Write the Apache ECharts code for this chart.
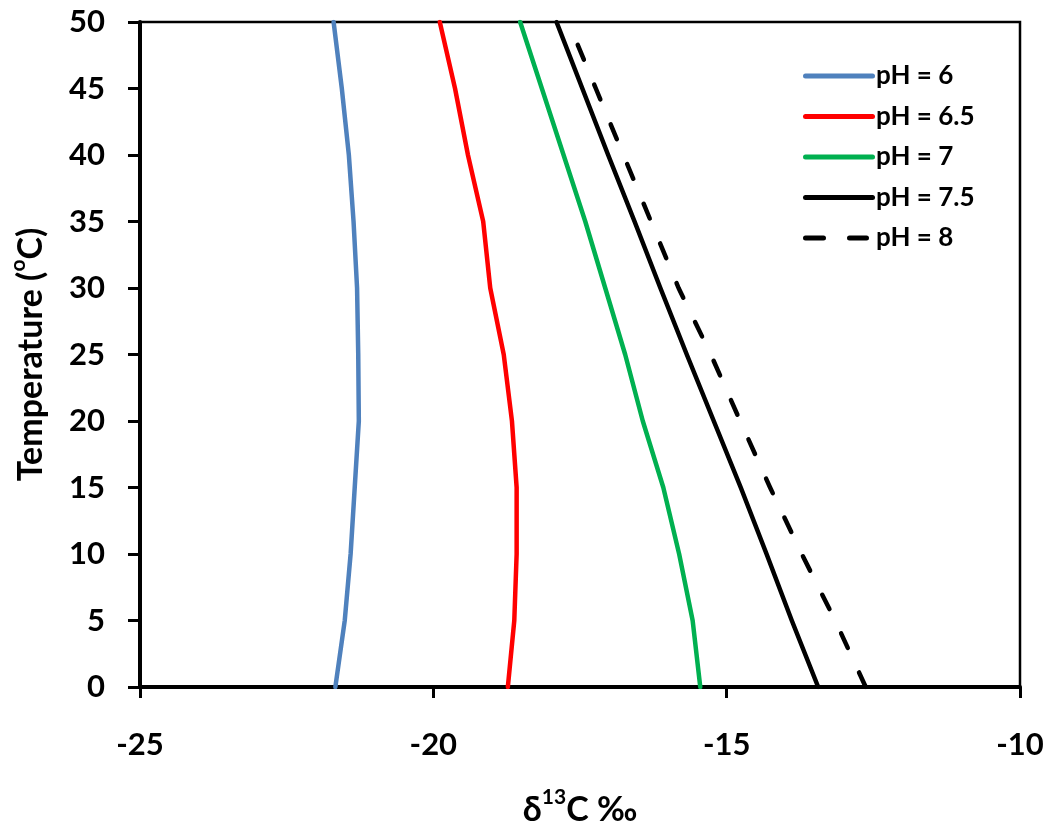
<!DOCTYPE html>
<html>
<head>
<meta charset="utf-8">
<script src="https://cdn.jsdelivr.net/npm/echarts@6/dist/echarts.min.js"></script>
<style>html,body{margin:0;padding:0;background:#fff}#c{width:1050px;height:825px}</style>
</head>
<body>
<div id="c"></div>
<script>
var temps = [0, 5, 10, 15, 20, 25, 30, 35, 40, 45, 50];
var seriesNames = ['pH = 6', 'pH = 6.5', 'pH = 7', 'pH = 7.5', 'pH = 8'];
var ph6   = [-21.67, -21.51, -21.41, -21.34, -21.27, -21.28, -21.30, -21.36, -21.44, -21.56, -21.70];
var ph65  = [-18.73, -18.62, -18.58, -18.58, -18.66, -18.80, -19.03, -19.15, -19.41, -19.63, -19.89];
var ph7   = [-15.45, -15.58, -15.81, -16.08, -16.43, -16.73, -17.07, -17.41, -17.78, -18.15, -18.52];
var ph75  = [-13.44, -13.89, -14.32, -14.76, -15.22, -15.68, -16.13, -16.57, -17.02, -17.46, -17.90];
var ph8   = [-12.63, -13.15, -13.72, -14.26, -14.77, -15.27, -15.82, -16.29, -16.76, -17.23, -17.70];
var xTicks = [-25, -20, -15, -10];
var yTicks = [0, 5, 10, 15, 20, 25, 30, 35, 40, 45, 50];

var FONT = 'Lato';
function pairs(xs) { return xs.map(function (x, i) { return [x, temps[i]]; }); }
var colors = ['#4f81bd', '#ff0000', '#00b050', '#000000', '#000000'];
var allData = [ph6, ph65, ph7, ph75, ph8];
var solidIcon = 'path://M2.5,0H69.5A2.5,2.5,0,0,1,69.5,5H2.5A2.5,2.5,0,0,1,2.5,0Z';
var dashIcon = 'path://M2.5,0H20.5A2.5,2.5,0,0,1,20.5,5H2.5A2.5,2.5,0,0,1,2.5,0Z M46.5,0H63.5A2.5,2.5,0,0,1,63.5,5H46.5A2.5,2.5,0,0,1,46.5,0Z M71.95,2.4H72V2.6H71.95Z';

var richA = { fontSize: 34, fontWeight: 'bold', color: '#000', fontFamily: FONT, lineHeight: 40, verticalAlign: 'bottom' };
var richS = { fontSize: 21, fontWeight: 'bold', color: '#000', fontFamily: FONT, lineHeight: 40, verticalAlign: 'top' };

var chart = echarts.init(document.getElementById('c'));
chart.setOption({
  animation: false,
  backgroundColor: '#fff',
  textStyle: { fontFamily: FONT },
  grid: { left: 140, right: 30, top: 22, bottom: 138, containLabel: false, outerBoundsMode: 'none',
    show: true, borderColor: '#000', borderWidth: 2.5, backgroundColor: 'transparent' },
  legend: {
    orient: 'vertical', left: 798, top: 58, itemGap: 14.5, itemWidth: 72, itemHeight: 5,
    data: seriesNames.map(function (n, i) { return { name: n, icon: i === 4 ? dashIcon : solidIcon }; }),
    textStyle: { fontFamily: FONT, fontWeight: 'bold', fontSize: 26, color: '#000', lineHeight: 26, padding: [0, 0, 0, -4] }
  },
  xAxis: {
    type: 'value', min: -25, max: -10, interval: 5,
    axisLine: { show: true, onZero: false, lineStyle: { color: '#000', width: 4 } },
    axisTick: { show: true, length: 11, lineStyle: { color: '#000', width: 3 } },
    splitLine: { show: false },
    axisLabel: { margin: 42, fontSize: 31, fontWeight: 'bold', color: '#000', fontFamily: FONT,
      formatter: function (v) { return xTicks.indexOf(v) >= 0 ? String(v) : ''; } },
    name: '{a|δ}{s|13}{a|C ‰}', nameLocation: 'middle', nameGap: 100,
    nameTextStyle: { rich: { a: richA, s: richS } }
  },
  yAxis: {
    type: 'value', min: 0, max: 50, interval: 5,
    axisLine: { show: true, onZero: false, lineStyle: { color: '#000', width: 4 } },
    axisTick: { show: true, length: 12, lineStyle: { color: '#000', width: 3 } },
    splitLine: { show: false },
    axisLabel: { margin: 35, fontSize: 31, fontWeight: 'bold', color: '#000', fontFamily: FONT,
      formatter: function (v) { return yTicks.indexOf(v) >= 0 ? String(v) : ''; } },
    name: '{a|Temperature (}{s|o}{a|C)}', nameLocation: 'middle', nameGap: 92, nameRotate: 90,
    nameTextStyle: { rich: { a: richA, s: richS } }
  },
  series: allData.map(function (d, i) {
    return {
      name: seriesNames[i], type: 'line', data: pairs(d), showSymbol: false, symbol: 'none',
      clip: true, z: 3,
      itemStyle: { color: colors[i] },
      lineStyle: { color: colors[i], width: 4.5, cap: 'round', join: 'round',
        type: i === 4 ? [16, 27] : 'solid' }
    };
  })
});
</script>
</body>
</html>
